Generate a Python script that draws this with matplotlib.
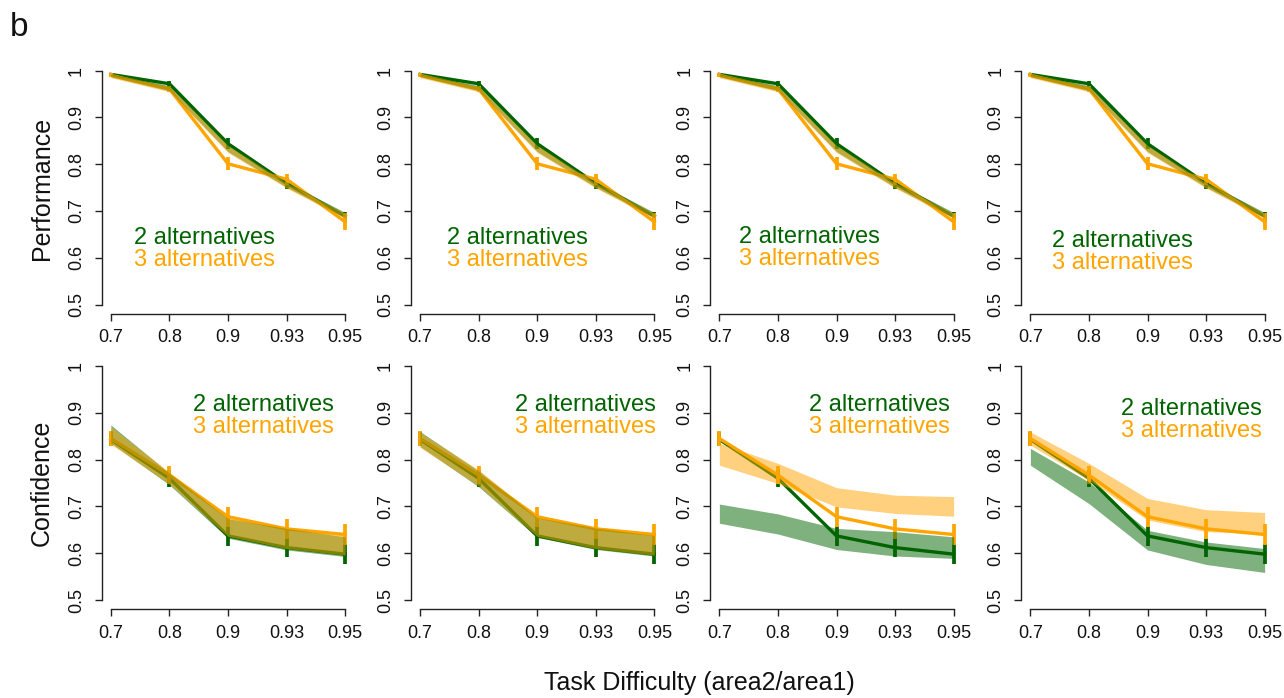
import matplotlib
matplotlib.use("Agg")
import matplotlib.pyplot as plt
import numpy as np

plt.rcParams['font.family'] = ['Liberation Sans', 'DejaVu Sans']

# ---------------- data ----------------
difficulty_labels = ['0.7', '0.8', '0.9', '0.93', '0.95']

# human data (same in every panel)
perf_2alt = [0.992, 0.972, 0.844, 0.759, 0.689]
perf_2alt_err = [0.004, 0.005, 0.012, 0.011, 0.010]
perf_3alt = [0.990, 0.961, 0.801, 0.768, 0.677]
perf_3alt_err = [0.004, 0.006, 0.014, 0.012, 0.018]

conf_2alt = [0.843, 0.760, 0.637, 0.612, 0.598]
conf_2alt_err = [0.015, 0.018, 0.021, 0.021, 0.022]
conf_3alt = [0.845, 0.767, 0.678, 0.652, 0.640]
conf_3alt_err = [0.017, 0.020, 0.021, 0.022, 0.022]

# model bands: performance (same shape in all four models)
perf_band_2alt_lo = [0.987, 0.957, 0.827, 0.751, 0.686]
perf_band_2alt_hi = [0.993, 0.968, 0.842, 0.762, 0.697]
perf_band_3alt_lo = [0.985, 0.955, 0.825, 0.749, 0.684]
perf_band_3alt_hi = [0.991, 0.966, 0.840, 0.760, 0.695]

# model bands: confidence, one set per model (panel)
conf_band_2alt_lo = [
    [0.835, 0.746, 0.632, 0.607, 0.593],
    [0.828, 0.742, 0.634, 0.608, 0.594],
    [0.664, 0.641, 0.608, 0.594, 0.589],
    [0.788, 0.706, 0.607, 0.576, 0.559],
]
conf_band_2alt_hi = [
    [0.874, 0.771, 0.674, 0.653, 0.635],
    [0.860, 0.776, 0.676, 0.654, 0.638],
    [0.705, 0.684, 0.653, 0.646, 0.635],
    [0.824, 0.752, 0.649, 0.624, 0.610],
]
conf_band_3alt_lo = [
    [0.833, 0.748, 0.636, 0.610, 0.596],
    [0.826, 0.744, 0.636, 0.610, 0.596],
    [0.788, 0.749, 0.699, 0.685, 0.679],
    [0.831, 0.756, 0.671, 0.646, 0.642],
]
conf_band_3alt_hi = [
    [0.870, 0.773, 0.677, 0.655, 0.638],
    [0.858, 0.778, 0.678, 0.656, 0.640],
    [0.835, 0.792, 0.740, 0.724, 0.721],
    [0.859, 0.792, 0.717, 0.693, 0.687],
]

legend_labels = ['2 alternatives', '3 alternatives']

# ---------------- style ----------------
GREEN = '#006400'
ORANGE = '#FFA500'
W, H = 1284, 698
fig = plt.figure(figsize=(W / 100, H / 100), dpi=100)

lefts_px = [101.5, 410.7, 710.0, 1021.0]
ax_w_px = 253.0
rows = [(61.3, 314.0), (356.6, 609.4)]  # (top, bottom) px

# legend text positions (data coords) per panel
top_text_pos = [(2.60, 0.642), (2.66, 0.643), (2.54, 0.645), (2.57, 0.636)]
bot_text_pos = [(3.61, 0.916), (3.82, 0.916), (3.73, 0.916), (3.75, 0.908)]

x = np.arange(1, 6)


def style_axes(ax):
    ax.set_xlim(0.84, 5.16)
    ax.set_ylim(0.48, 1.02)
    for s in ['top', 'right']:
        ax.spines[s].set_visible(False)
    ax.spines['left'].set_bounds(0.5, 1.0)
    ax.spines['bottom'].set_bounds(1, 5)
    for s in ['left', 'bottom']:
        ax.spines[s].set_linewidth(1.0)
        ax.spines[s].set_color('#222222')
    ax.set_xticks(x)
    ax.set_xticklabels(difficulty_labels)
    ax.set_yticks([0.5, 0.6, 0.7, 0.8, 0.9, 1.0])
    ax.set_yticklabels(['0.5', '0.6', '0.7', '0.8', '0.9', '1'])
    ax.tick_params(axis='both', length=5, width=1.0, color='#222222',
                   labelsize=13, labelcolor='#111111')
    ax.tick_params(axis='x', pad=6)
    ax.tick_params(axis='y', pad=7)
    for lab in ax.get_yticklabels():
        lab.set_rotation(90)
        lab.set_va('center')
    ax.set_facecolor('none')


def draw(ax, y2, e2, y3, e3, b2lo, b2hi, b3lo, b3hi, tpos):
    # lines and error bars
    ax.plot(x, y2, color=GREEN, lw=2.4, zorder=2, solid_joinstyle='round')
    ax.vlines(x, np.array(y2) - np.array(e2), np.array(y2) + np.array(e2),
              color=GREEN, lw=2.7, zorder=2)
    ax.plot(x, y3, color=ORANGE, lw=2.4, zorder=3, solid_joinstyle='round')
    ax.vlines(x, np.array(y3) - np.array(e3), np.array(y3) + np.array(e3),
              color=ORANGE, lw=2.7, zorder=3)
    # model bands drawn over the data
    ax.fill_between(x, b2lo, b2hi, color=GREEN, alpha=0.5, lw=0, zorder=4)
    ax.fill_between(x, b3lo, b3hi, color=ORANGE, alpha=0.5, lw=0, zorder=5)
    tx, ty = tpos
    ax.text(tx, ty, legend_labels[0], color=GREEN, fontsize=17,
            ha='center', va='center', zorder=6)
    ax.text(tx, ty - 0.047, legend_labels[1], color=ORANGE, fontsize=17,
            ha='center', va='center', zorder=6)


for r, (top, bot) in enumerate(rows):
    for c, lp in enumerate(lefts_px):
        ax = fig.add_axes([lp / W, (H - bot) / H, ax_w_px / W, (bot - top) / H])
        style_axes(ax)
        if r == 0:
            draw(ax, perf_2alt, perf_2alt_err, perf_3alt, perf_3alt_err,
                 perf_band_2alt_lo, perf_band_2alt_hi,
                 perf_band_3alt_lo, perf_band_3alt_hi, top_text_pos[c])
        else:
            draw(ax, conf_2alt, conf_2alt_err, conf_3alt, conf_3alt_err,
                 conf_band_2alt_lo[c], conf_band_2alt_hi[c],
                 conf_band_3alt_lo[c], conf_band_3alt_hi[c], bot_text_pos[c])

fig.text(42 / W, 1 - 188 / H, 'Performance', rotation=90, fontsize=18,
         ha='center', va='center', color='#111111')
fig.text(42 / W, 1 - 483 / H, 'Confidence', rotation=90, fontsize=18,
         ha='center', va='center', color='#111111')
fig.text(699 / W, 1 - 683 / H, 'Task Difficulty (area2/area1)', fontsize=18,
         ha='center', va='center', color='#111111')
fig.text(19 / W, 1 - 28 / H, 'b', fontsize=24, ha='center', va='center',
         color='#111111')

fig.savefig('out.png', dpi=100)
